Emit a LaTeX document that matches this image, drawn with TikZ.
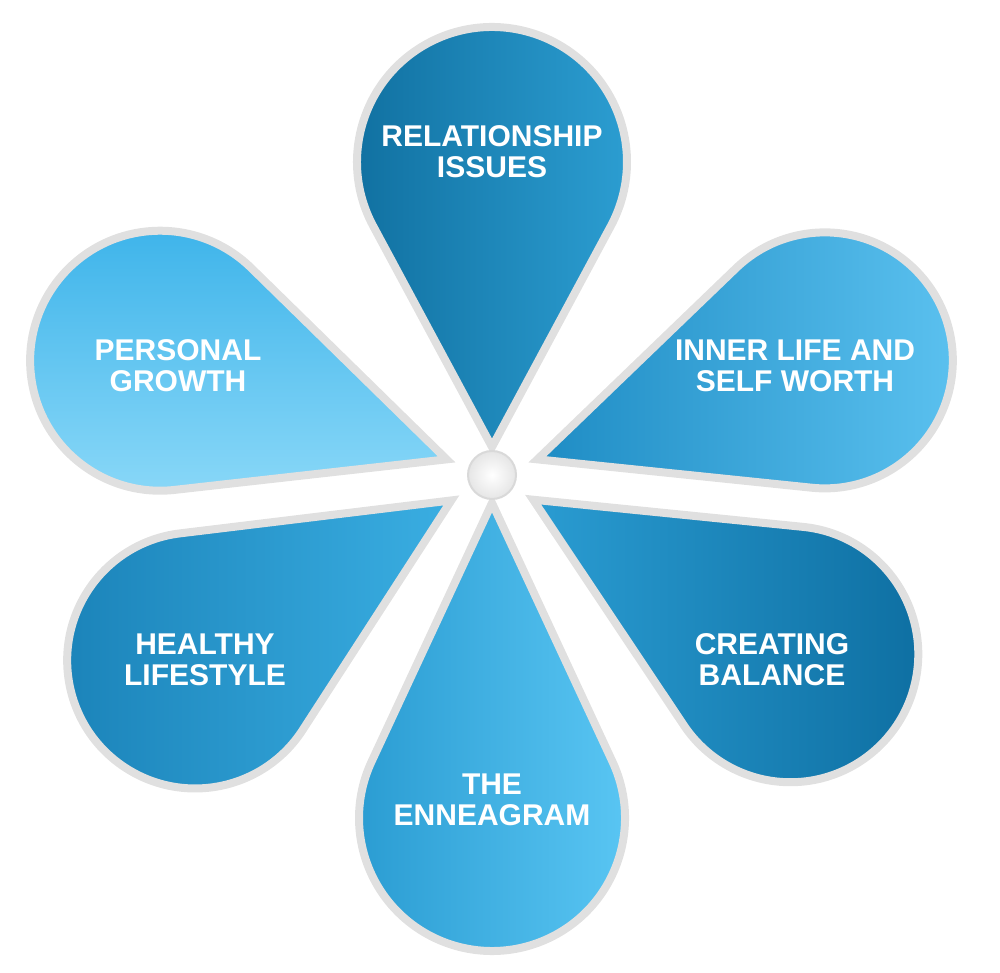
\documentclass[tikz,border=0pt]{standalone}
\usepackage{fontspec}
\setmainfont{Liberation Sans}
\usetikzlibrary{calc}
\definecolor{cA1}{HTML}{0F6E9E}\definecolor{cA2}{HTML}{2C9ED2}
\definecolor{cB1}{HTML}{1E8CC4}\definecolor{cB2}{HTML}{5CC2F0}
\definecolor{cC1}{HTML}{0E6FA2}\definecolor{cC2}{HTML}{2A9CD2}
\definecolor{cD1}{HTML}{2A9CD2}\definecolor{cD2}{HTML}{5CC8F5}
\definecolor{cE1}{HTML}{1A82B8}\definecolor{cE2}{HTML}{3AAEE2}
\definecolor{cF1}{HTML}{3EB4EA}\definecolor{cF2}{HTML}{8AD8F8}
\begin{document}
\begin{tikzpicture}[x=0.5pt,y=0.5pt,
  lab/.style={text=white,font=\bfseries\fontsize{15}{15.5}\selectfont,align=center},
  petal/.style={draw=black!12,line width=4pt}]
\useasboundingbox (0,0) rectangle (1000,973);
\newcommand\mypetal[5]{%
 \begin{scope}[shift={(492,498)},rotate=#1]
  \pgfmathsetmacro\aa{asin(#4/(#3-#2))}
  \path[petal,#5] (#2,0) -- ($(#3,0)+(\aa+90:#4)$) arc[start angle=\aa+90,end angle=-\aa-90,radius=#4] -- cycle;
 \end{scope}}
\mypetal{90}{28}{313}{135}{left color=cA1,right color=cA2}
\mypetal{19}{48}{352}{128}{left color=cB1,right color=cB2}
\mypetal{-31}{48}{348}{128}{left color=cC2,right color=cC1}
\mypetal{-90}{28}{343}{133}{left color=cD1,right color=cD2}
\mypetal{212}{48}{350}{128}{left color=cE1,right color=cE2}
\mypetal{161}{48}{351}{130}{left color=cF1,right color=cF2,shading angle=0}
\node[circle,draw=black!15,line width=1pt,inner color=white,outer color=black!10,minimum size=24pt] (c) at (492,498) {};
\node[lab] (t1) at (492,821) {RELATIONSHIP\\ISSUES};
\node[lab] (t2) at (795,607) {INNER LIFE AND\\SELF WORTH};
\node[lab] (t3) at (772,313) {CREATING\\BALANCE};
\node[lab] (t4) at (492,173) {THE\\ENNEAGRAM};
\node[lab] (t5) at (205,313) {HEALTHY\\LIFESTYLE};
\node[lab] (t6) at (178,607) {PERSONAL\\GROWTH};
\end{tikzpicture}
\end{document}
